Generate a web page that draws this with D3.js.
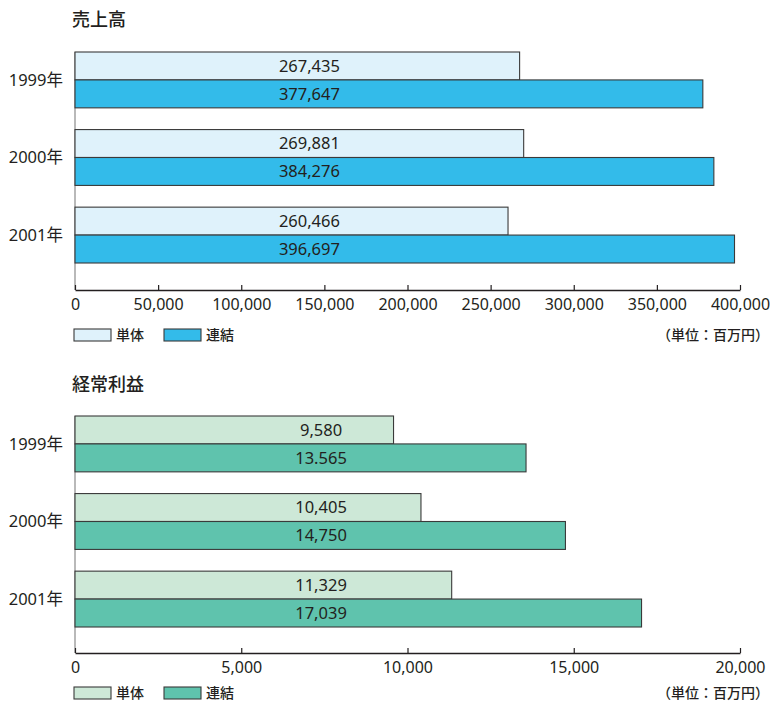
<!DOCTYPE html>
<html><head><meta charset="utf-8">
<script src="https://cdn.jsdelivr.net/npm/d3@7"></script>
<style>
body{margin:0;background:#fff;}
svg text{font-family:"Noto Sans","Noto Sans CJK JP",sans-serif;fill:#231f20;}
.jp{font-family:"Noto Sans CJK JP",sans-serif;}
</style></head>
<body><svg id="c" width="771" height="701"></svg>
<script>
const years = ["1999年","2000年","2001年"];
const seriesNames = ["単体","連結"];
const salesTanTai = [267435, 269881, 260466];
const salesRenketsu = [377647, 384276, 396697];
const salesLabels = [["267,435","377,647"],["269,881","384,276"],["260,466","396,697"]];
const salesTicks = [0,50000,100000,150000,200000,250000,300000,350000,400000];
const profitTanTai = [9580, 10405, 11329];
const profitRenketsu = [13565, 14750, 17039];
const profitLabels = [["9,580","13.565"],["10,405","14,750"],["11,329","17,039"]];
const profitTicks = [0,5000,10000,15000,20000];
const unitText = "（単位：百万円）";

const svg = d3.select("#c");
const fmt = d3.format(",");

function panel(cfg){
  const g = svg.append("g");
  const x = d3.scaleLinear().domain([0, cfg.max]).range([75, 740]);
  const y = d3.scaleBand().domain(years).range([cfg.top, cfg.bottom]).paddingInner(0.28).paddingOuter(0);
  const ys = d3.scaleBand().domain(seriesNames).range([0, y.bandwidth()]);
  g.append("text").attr("class","jp").attr("x",72).attr("y",cfg.titleY)
    .attr("font-size",18).attr("font-weight",500).text(cfg.title);
  g.append("line").attr("x1",75).attr("x2",75).attr("y1",cfg.top).attr("y2",cfg.axisY)
    .attr("stroke","#8a8a8a").attr("stroke-width",1.2);
  const data = years.map((yr,i)=>({yr, vals:[cfg.a[i], cfg.b[i]], labels: cfg.labels[i]}));
  data.forEach(d=>{
    seriesNames.forEach((s,j)=>{
      g.append("rect").attr("x",x(0)).attr("y",y(d.yr)+ys(s))
        .attr("width",x(d.vals[j])-x(0)).attr("height",ys.bandwidth())
        .attr("fill",cfg.colors[j]).attr("stroke","#3a3a3a").attr("stroke-width",1.1);
      g.append("text").attr("x",x(cfg.labelAt)).attr("y",y(d.yr)+ys(s)+ys.bandwidth()/2)
        .attr("dy","0.36em").attr("text-anchor","middle").attr("font-size",16.5).text(d.labels[j]);
    });
    g.append("text").attr("x",63).attr("y",y(d.yr)+y.bandwidth()/2)
      .attr("dy","0.36em").attr("text-anchor","end").attr("font-size",16.5).text(d.yr);
  });
  const ax = g.append("g").attr("transform",`translate(0,${cfg.axisY})`)
    .call(d3.axisBottom(x).tickValues(cfg.ticks).tickSizeInner(-5).tickSizeOuter(0).tickPadding(9).tickFormat(fmt));
  ax.select(".domain").attr("stroke","#231f20").attr("stroke-width",1.3);
  ax.selectAll(".tick line").attr("stroke","#231f20").attr("stroke-width",1.2);
  ax.selectAll(".tick text").attr("font-size",16).attr("font-family","Noto Sans, sans-serif").attr("fill","#231f20");
  const lg = g.append("g");
  const lx = [74, 164];
  seriesNames.forEach((s,j)=>{
    lg.append("rect").attr("x",lx[j]).attr("y",cfg.legY-6).attr("width",37).attr("height",12)
      .attr("fill",cfg.colors[j]).attr("stroke","#3a3a3a").attr("stroke-width",1.1);
    lg.append("text").attr("class","jp").attr("x",lx[j]+42).attr("y",cfg.legY).attr("dy","0.36em")
      .attr("font-size",14).attr("font-weight",500).text(s);
  });
  g.append("text").attr("class","jp").attr("x",769).attr("y",cfg.legY).attr("dy","0.36em")
    .attr("text-anchor","end").attr("font-size",14).attr("font-weight",500).text(unitText);
}

panel({title:"売上高", titleY:26, top:52, bottom:263, axisY:290, max:400000, ticks:salesTicks,
  a:salesTanTai, b:salesRenketsu, labels:salesLabels, colors:["#dff2fb","#33bbea"], labelAt:141000, legY:335});
panel({title:"経常利益", titleY:391, top:416, bottom:627, axisY:653, max:20000, ticks:profitTicks,
  a:profitTanTai, b:profitRenketsu, labels:profitLabels, colors:["#cde8d7","#5fc3ad"], labelAt:7400, legY:693});
</script></body></html>
